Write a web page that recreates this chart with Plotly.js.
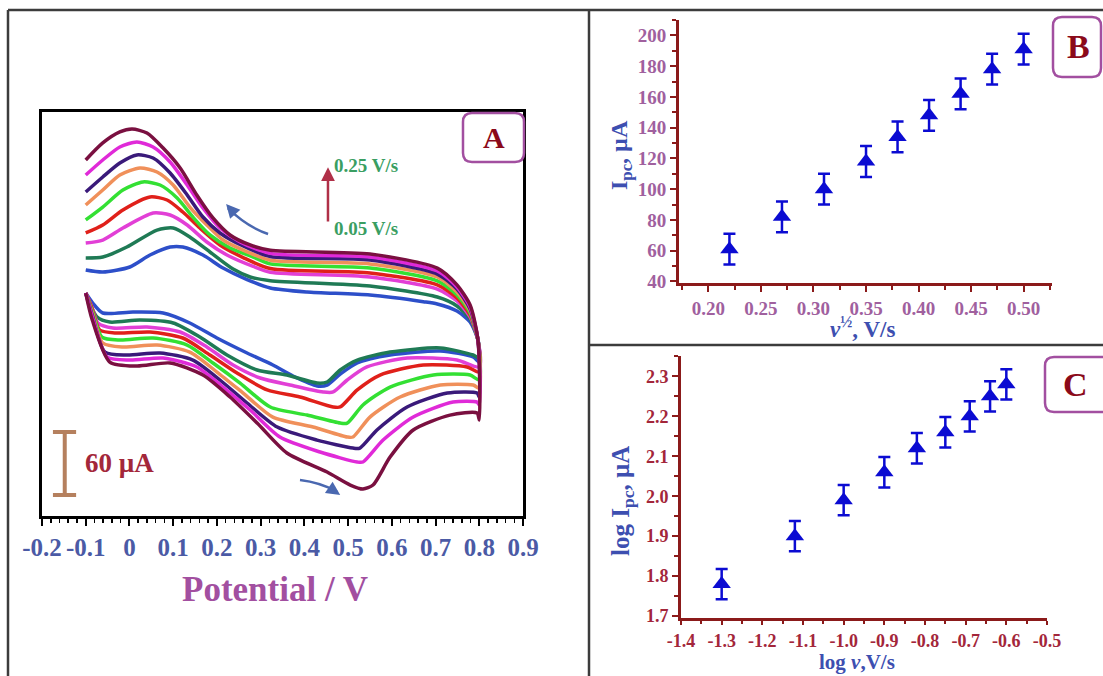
<!DOCTYPE html>
<html><head><meta charset="utf-8">
<script src="https://cdn.plot.ly/plotly-3.0.1.min.js"></script>
<style>html,body{margin:0;padding:0;background:#fff;}#chart{width:1103px;height:676px;}</style>
</head><body><div id="chart"></div>
<script>
// ---------- Panel A: cyclic voltammograms (E in V, I in µA) ----------
const scanRates = [0.05, 0.075, 0.1, 0.125, 0.15, 0.175, 0.2, 0.225, 0.25];

const cv005 = [[-0.1,57.1],[-0.061,55.2],[0.001,60],[0.047,71.4],[0.093,79],[0.122,79],[0.168,71.4],[0.214,59],[0.269,48],[0.322,40],[0.406,36.2],[0.55,33.3],[0.672,27],[0.704,24.8],[0.749,18.1],[0.779,7.6],[0.797,-9.5],
  [0.8,-30.5],[0.786,-25.7],[0.711,-20],[0.596,-23.8],[0.521,-31.4],[0.482,-42],[0.452,-52.4],[0.429,-53.3],[0.374,-43.8],[0.328,-33.3],[0.269,-21.9],[0.2,-7.6],[0.138,6.7],[0.077,16.2],[0.008,17.1],[-0.061,16.2],[-0.084,25.7],[-0.1,35.2]];
const cv0075 = [[-0.1,68.6],[-0.061,69.5],[-0.006,79],[0.063,95.2],[0.1,97.1],[0.138,88.6],[0.184,74.3],[0.237,58],[0.276,50.5],[0.322,47],[0.55,41.9],[0.704,31.4],[0.749,22.9],[0.779,10.5],[0.797,-9.5],
  [0.8,-26.7],[0.786,-23.8],[0.711,-17.1],[0.596,-21],[0.521,-28.6],[0.482,-38.1],[0.452,-49.5],[0.429,-50.5],[0.36,-42.9],[0.292,-38.1],[0.223,-23.8],[0.161,-6.7],[0.1,6.7],[0.024,9.5],[-0.045,7.6],[-0.074,12.4],[-0.1,35.2]];
const cv010 = [[-0.1,82.9],[-0.061,85.7],[-0.015,97.1],[0.054,111.4],[0.093,109.5],[0.132,100],[0.177,83.8],[0.223,71.4],[0.283,60.5],[0.322,55],[0.55,50.5],[0.704,39],[0.749,27.6],[0.779,12.4],[0.797,-9.5],
  [0.8,-35.2],[0.749,-28.6],[0.635,-26.7],[0.543,-35.2],[0.498,-47.6],[0.466,-59],[0.443,-59],[0.367,-52.4],[0.299,-45.7],[0.237,-33.3],[0.177,-16.2],[0.116,-1.9],[0.04,2.9],[-0.038,1.9],[-0.072,6.7],[-0.086,21.9],[-0.1,35.2]];
const cv0125 = [[-0.1,92.4],[-0.061,100],[-0.015,114.3],[0.047,126.7],[0.086,123.8],[0.122,112.4],[0.161,97.1],[0.207,81],[0.26,69],[0.322,58.5],[0.55,54.3],[0.704,42.9],[0.749,30.5],[0.779,14.3],[0.797,-9.5],
  [0.8,-40],[0.772,-35.2],[0.672,-33.3],[0.573,-42.9],[0.521,-57.1],[0.482,-73.3],[0.466,-73.3],[0.39,-63.8],[0.315,-57.1],[0.246,-41],[0.184,-23.8],[0.122,-7.6],[0.047,-1.9],[-0.029,-2.9],[-0.068,0],[-0.085,20],[-0.1,35.2]];
const cv015 = [[-0.1,104.8],[-0.061,117.1],[-0.015,133.3],[0.031,141],[0.07,138.1],[0.109,125.7],[0.145,107.6],[0.184,90.5],[0.23,78.1],[0.283,69.5],[0.322,63],[0.55,59],[0.704,46.7],[0.749,33.3],[0.779,16.2],[0.797,-9.5],
  [0.8,-47.6],[0.779,-42.9],[0.695,-42.9],[0.596,-54.3],[0.534,-71.4],[0.498,-88.6],[0.482,-88.6],[0.406,-81],[0.322,-73.3],[0.253,-50.5],[0.191,-31.4],[0.132,-14.3],[0.054,-7.6],[-0.022,-9.5],[-0.063,-6.7],[-0.085,18.1],[-0.1,35.2]];
const cv0175 = [[-0.1,119],[-0.061,133.3],[-0.022,147.6],[0.024,154.3],[0.063,150.5],[0.1,138.1],[0.138,117.1],[0.177,100],[0.214,85.7],[0.269,74.5],[0.322,66.5],[0.55,62.9],[0.704,50.5],[0.749,36.2],[0.779,18.1],[0.797,-9.5],
  [0.8,-55.2],[0.786,-52.4],[0.711,-52.4],[0.619,-63.8],[0.55,-82.9],[0.511,-101.9],[0.498,-101.9],[0.42,-92.4],[0.328,-82.9],[0.26,-60],[0.2,-40],[0.138,-21],[0.063,-14.3],[-0.015,-16.2],[-0.061,-12.4],[-0.085,16.2],[-0.1,35.2]];
const cv020 = [[-0.1,131.4],[-0.061,145.7],[-0.022,159],[0.017,166.7],[0.054,163.8],[0.093,149.5],[0.132,128.6],[0.168,107.6],[0.207,92.4],[0.26,80],[0.322,70],[0.55,66.7],[0.704,53.3],[0.749,39],[0.779,20],[0.797,-9.5],
  [0.8,-63.8],[0.795,-60],[0.727,-60],[0.635,-73.3],[0.566,-95.2],[0.527,-112.4],[0.511,-112.4],[0.429,-104.8],[0.338,-92.4],[0.269,-69.5],[0.207,-47.6],[0.145,-28.6],[0.07,-21.9],[-0.006,-23.8],[-0.056,-21],[-0.085,14.3],[-0.1,35.2]];
const cv0225 = [[-0.1,147.6],[-0.061,161.9],[-0.022,174.3],[0.017,179],[0.054,174.3],[0.093,160],[0.132,138.1],[0.168,116.2],[0.207,97.1],[0.253,83.8],[0.322,73],[0.55,69.5],[0.704,56.2],[0.749,41],[0.779,21.9],[0.797,-9.5],
  [0.8,-71.4],[0.795,-68.6],[0.74,-68.6],[0.649,-82.9],[0.58,-104.8],[0.534,-125.7],[0.521,-125.7],[0.436,-116.2],[0.344,-101.9],[0.276,-76.2],[0.214,-54.3],[0.154,-35.2],[0.077,-26.7],[0.001,-28.6],[-0.051,-25.7],[-0.085,12.4],[-0.1,35.2]];
const cv025 = [[-0.1,161.9],[-0.061,178.1],[-0.022,188.6],[0.006,191.4],[0.04,187.6],[0.077,173.3],[0.116,154.3],[0.154,128.6],[0.191,106.7],[0.23,90.5],[0.276,81],[0.322,76],[0.55,72.4],[0.704,59],[0.749,42.9],[0.779,23.8],[0.797,-9.5],
  [0.8,-85.7],[0.795,-79],[0.733,-81],[0.649,-95.2],[0.596,-121],[0.557,-147.6],[0.534,-151.4],[0.505,-147.6],[0.452,-135.2],[0.36,-117.1],[0.292,-88.6],[0.23,-63.8],[0.168,-42.9],[0.093,-31.4],[0.017,-34.3],[-0.045,-30.5],[-0.085,9.5],[-0.1,35.2]];

const potentialTicks = [-0.2,-0.1,0,0.1,0.2,0.3,0.4,0.5,0.6,0.7,0.8,0.9];
const potentialTickText = ["-0.2","-0.1","0","0.1","0.2","0.3","0.4","0.5","0.6","0.7","0.8","0.9"];

// ---------- Panel B ----------
const sqrtScanRate = [0.22,0.27,0.31,0.35,0.38,0.41,0.44,0.47,0.50];
const ipc = [61,82,100,118,134,148,162,178,191];
const ipcErr = [10,10,10,10,10,10,10,10,10];

// ---------- Panel C ----------
const logScanRate = [-1.3,-1.12,-1.0,-0.9,-0.82,-0.75,-0.69,-0.64,-0.6];
const logIpc = [1.78,1.90,1.99,2.06,2.12,2.16,2.20,2.25,2.28];
const logIpcErr = [0.038,0.038,0.038,0.038,0.038,0.038,0.038,0.038,0.038];
const logRateTicks = [-1.4,-1.3,-1.2,-1.1,-1.0,-0.9,-0.8,-0.7,-0.6,-0.5];
const logRateTickText = ["-1.4","-1.3","-1.2","-1.1","-1.0","-0.9","-0.8","-0.7","-0.6","-0.5"];

// ---------- styling ----------
const W = 1103, H = 676;
const SERIF = "Liberation Serif, Times New Roman, serif";
const cvCurves = [cv005, cv0075, cv010, cv0125, cv015, cv0175, cv020, cv0225, cv025];
const cvColors = ["#2d4fc9","#1f7a55","#e23fd6","#e0201a","#33e033","#f0905a","#3a1a7a","#e02ad8","#7a1040"];

const traces = cvCurves.map((c, i) => ({
  type: "scatter", mode: "lines", xaxis: "x", yaxis: "y",
  x: c.map(p => p[0]), y: c.map(p => p[1]),
  name: scanRates[i] + " V/s",
  line: {color: cvColors[i], width: 3.5, shape: "spline", smoothing: 0.7},
  hoverinfo: "skip"
}));
const markerBlue = "#0b0bd2";
traces.push({
  type: "scatter", mode: "markers", xaxis: "x2", yaxis: "y2",
  x: sqrtScanRate, y: ipc,
  error_y: {type: "data", array: ipcErr, visible: true, color: markerBlue, thickness: 2.5, width: 6},
  marker: {symbol: "triangle-up", size: 16, color: markerBlue}
});
traces.push({
  type: "scatter", mode: "markers", xaxis: "x3", yaxis: "y3",
  x: logScanRate, y: logIpc,
  error_y: {type: "data", array: logIpcErr, visible: true, color: markerBlue, thickness: 2.5, width: 6},
  marker: {symbol: "triangle-up", size: 16, color: markerBlue}
});

const fx = p => p / W, fy = p => 1 - p / H;
function rr(x0, y0, x1, y1, r) {
  const X = p => fx(p).toFixed(5), Y = p => fy(p).toFixed(5);
  return `M ${X(x0+r)},${Y(y0)} L ${X(x1-r)},${Y(y0)} Q ${X(x1)},${Y(y0)} ${X(x1)},${Y(y0+r)} ` +
    `L ${X(x1)},${Y(y1-r)} Q ${X(x1)},${Y(y1)} ${X(x1-r)},${Y(y1)} L ${X(x0+r)},${Y(y1)} ` +
    `Q ${X(x0)},${Y(y1)} ${X(x0)},${Y(y1-r)} L ${X(x0)},${Y(y0+r)} Q ${X(x0)},${Y(y0)} ${X(x0+r)},${Y(y0)} Z`;
}
const frame = "#3c3c3c", boxPurple = "#a24fa0", darkRed = "#8b1a1a";

const shapes = [
  {type: "line", xref: "paper", yref: "paper", x0: fx(8), x1: fx(1103), y0: fy(10), y1: fy(10), line: {color: frame, width: 2.5}},
  {type: "line", xref: "paper", yref: "paper", x0: fx(8), x1: fx(8), y0: fy(10), y1: fy(676), line: {color: frame, width: 2.5}},
  {type: "line", xref: "paper", yref: "paper", x0: fx(589), x1: fx(589), y0: fy(10), y1: fy(676), line: {color: frame, width: 2.5}},
  {type: "line", xref: "paper", yref: "paper", x0: fx(589), x1: fx(1103), y0: fy(345), y1: fy(345), line: {color: frame, width: 2.5}},
  {type: "path", xref: "paper", yref: "paper", path: rr(463, 113, 524, 162, 9), line: {color: boxPurple, width: 2.5}, fillcolor: "rgba(255,255,255,0)"},
  {type: "path", xref: "paper", yref: "paper", path: rr(1053, 17, 1101, 77, 9), line: {color: boxPurple, width: 2.5}, fillcolor: "rgba(255,255,255,0)"},
  {type: "path", xref: "paper", yref: "paper", path: rr(1045, 357, 1112, 412, 9), line: {color: boxPurple, width: 2.5}, fillcolor: "rgba(255,255,255,0)"},
  // 60 µA scale bar (data units of panel A)
  {type: "line", xref: "x", yref: "y", x0: -0.148, x1: -0.148, y0: -157.1, y1: -97.1, line: {color: "#b5805e", width: 4}},
  {type: "line", xref: "x", yref: "y", x0: -0.175, x1: -0.122, y0: -97.1, y1: -97.1, line: {color: "#b5805e", width: 4}},
  {type: "line", xref: "x", yref: "y", x0: -0.175, x1: -0.122, y0: -157.1, y1: -157.1, line: {color: "#b5805e", width: 4}},
  // curved scan-direction arrows
  {type: "path", xref: "x", yref: "y", path: "M 0.317,91.4 Q 0.269,98.1 0.225,116", line: {color: "#4a68b0", width: 2.5}},
  {type: "path", xref: "x", yref: "y", path: "M 0.39,-142.9 Q 0.436,-145.2 0.475,-154", line: {color: "#4a68b0", width: 2.5}}
];

function label(px, py, text, size, color, extra) {
  return Object.assign({xref: "paper", yref: "paper", x: fx(px), y: fy(py), xanchor: "center", yanchor: "middle",
    text: text, showarrow: false, font: {family: SERIF, size: size, color: color}}, extra || {});
}
const ann = [
  label(494, 137, "<b>A</b>", 30, "#8b0a1a"),
  label(1078, 47, "<b>B</b>", 34, "#8b0a1a"),
  label(1075, 384, "<b>C</b>", 34, "#8b0a1a"),
  label(275, 589, "<b>Potential / V</b>", 35, boxPurple),
  label(621, 155, "<b>I<sub>pc</sub>, µA</b>", 24, "#3d4fb0", {textangle: -90}),
  label(862, 327, "<b><i>v</i><sup>½</sup>, V/s</b>", 23, "#3d4fb0"),
  label(623, 501, "<b>log I<sub>pc</sub>, µA</b>", 25, "#3d4fb0", {textangle: -90}),
  label(857, 662, "<b>log <i>v</i>,V/s</b>", 21, "#3d4fb0"),
  {xref: "x", yref: "y", x: 0.463, y: 157, xanchor: "left", yanchor: "middle", text: "<b>0.25 V/s</b>", showarrow: false, font: {family: SERIF, size: 19, color: "#3a9e62"}},
  {xref: "x", yref: "y", x: 0.463, y: 97, xanchor: "left", yanchor: "middle", text: "<b>0.05 V/s</b>", showarrow: false, font: {family: SERIF, size: 19, color: "#3a9e62"}},
  {xref: "x", yref: "y", x: -0.106, y: -126.7, xanchor: "left", yanchor: "middle", text: "<b>60 µA</b>", showarrow: false, font: {family: SERIF, size: 27, color: "#a3273a"}},
  {xref: "x", yref: "y", axref: "x", ayref: "y", x: 0.454, y: 155, ax: 0.454, ay: 102, text: "", showarrow: true, arrowhead: 2, arrowsize: 1.1, arrowwidth: 2.5, arrowcolor: "#b03048"},
  {xref: "x", yref: "y", x: 0.221, y: 120, ax: 8, ay: 9, text: "", showarrow: true, arrowhead: 2, arrowsize: 1.1, arrowwidth: 2.5, arrowcolor: "#4a68b0"},
  {xref: "x", yref: "y", x: 0.482, y: -157.1, ax: -9, ay: -6, text: "", showarrow: true, arrowhead: 2, arrowsize: 1.1, arrowwidth: 2.5, arrowcolor: "#4a68b0"}
];

const tickFontA = {family: SERIF, size: 25, color: "#4b5aa5", weight: "bold"};
const tickFontB = {family: SERIF, size: 19, color: "#a0609e", weight: "bold"};
const tickFontC = {family: SERIF, size: 18, color: "#a3263a", weight: "bold"};
const layout = {
  width: W, height: H, margin: {l: 0, r: 0, t: 0, b: 0},
  paper_bgcolor: "#ffffff", plot_bgcolor: "#ffffff", showlegend: false,
  font: {family: SERIF},
  xaxis: {domain: [fx(42), fx(523)], range: [-0.2, 0.9], anchor: "y",
    tickmode: "array", tickvals: potentialTicks, ticktext: potentialTickText,
    ticks: "outside", ticklen: 7, tickwidth: 2, tickcolor: "#000",
    minor: {dtick: 0.02, tick0: 0, ticks: "outside", ticklen: 4, tickwidth: 1.5, tickcolor: "#000", showgrid: false},
    showline: true, linecolor: "#000", linewidth: 3, mirror: true,
    showgrid: false, zeroline: false, tickfont: tickFontA, automargin: false},
  yaxis: {domain: [fy(516), fy(112)], range: [-177.1, 207.6], anchor: "x",
    showline: true, linecolor: "#000", linewidth: 3, mirror: true,
    showticklabels: false, ticks: "", showgrid: false, zeroline: false, automargin: false},
  xaxis2: {domain: [fx(679), fx(1052)], range: [0.172, 0.527], anchor: "y2",
    tick0: 0.2, dtick: 0.05, tickformat: ".2f",
    ticks: "outside", ticklen: 6, tickwidth: 2, tickcolor: darkRed,
    minor: {dtick: 0.025, tick0: 0.2, ticks: "outside", ticklen: 4, tickwidth: 2, tickcolor: darkRed, showgrid: false},
    showline: true, linecolor: darkRed, linewidth: 3, showgrid: false, zeroline: false,
    tickfont: tickFontB, automargin: false},
  yaxis2: {domain: [fy(283), fy(20)], range: [39, 210], anchor: "x2",
    tick0: 40, dtick: 20,
    ticks: "outside", ticklen: 6, tickwidth: 2, tickcolor: darkRed,
    minor: {dtick: 10, tick0: 40, ticks: "outside", ticklen: 4, tickwidth: 2, tickcolor: darkRed, showgrid: false},
    showline: true, linecolor: darkRed, linewidth: 3, showgrid: false, zeroline: false,
    tickfont: tickFontB, automargin: false},
  xaxis3: {domain: [fx(681), fx(1047)], range: [-1.4, -0.5], anchor: "y3",
    tickmode: "array", tickvals: logRateTicks, ticktext: logRateTickText,
    ticks: "outside", ticklen: 4, tickwidth: 2, tickcolor: darkRed,
    minor: {dtick: 0.05, tick0: -1.4, ticks: "outside", ticklen: 3, tickwidth: 2, tickcolor: darkRed, showgrid: false},
    showline: true, linecolor: darkRed, linewidth: 3, showgrid: false, zeroline: false,
    tickfont: tickFontC, automargin: false},
  yaxis3: {domain: [fy(618), fy(356)], range: [1.695, 2.351], anchor: "x3",
    tick0: 1.7, dtick: 0.1, tickformat: ".1f",
    ticks: "outside", ticklen: 6, tickwidth: 2, tickcolor: darkRed,
    minor: {dtick: 0.05, tick0: 1.7, ticks: "outside", ticklen: 4, tickwidth: 2, tickcolor: darkRed, showgrid: false},
    showline: true, linecolor: darkRed, linewidth: 3, showgrid: false, zeroline: false,
    tickfont: tickFontC, automargin: false},
  shapes: shapes,
  annotations: ann
};

Plotly.newPlot("chart", traces, layout, {displayModeBar: false, staticPlot: true});
</script>
</body></html>
